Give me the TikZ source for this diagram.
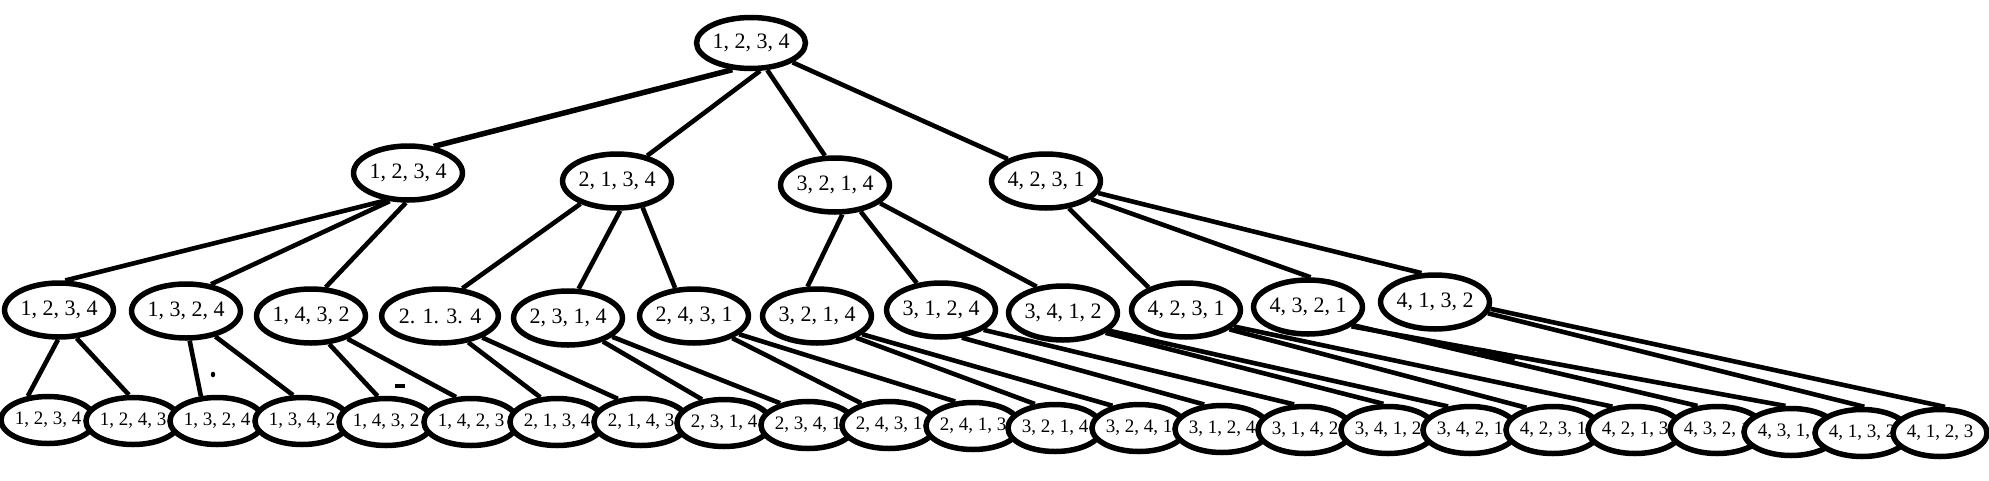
\documentclass[tikz,border=0pt]{standalone}
\usepackage{fontspec}
\newfontfamily\lab{Liberation Serif}
\usetikzlibrary{shapes.geometric}
\begin{document}
\begin{tikzpicture}[x=1pt,y=-1pt,
  ell/.style={ellipse, draw=black, line width=5.5pt, inner sep=0pt, fill=white},
  big/.style={ell, minimum width=107pt, minimum height=54pt, font=\lab\fontsize{22}{22}\selectfont},
  small/.style={ell, minimum width=77pt, minimum height=47pt, font=\lab\fontsize{19}{19}\selectfont},
  edge/.style={line width=4.6pt}]
\useasboundingbox[fill=white] (0,0) rectangle (1989,480);

% level 0
\node[big, minimum height=51pt] (R) at (751,43) {1, 2, 3, 4};
% level 1
\node[big] (A1) at (408,173) {1, 2, 3, 4};
\node[big] (A2) at (617,181) {2, 1, 3, 4};
\node[big] (A3) at (835,185) {3, 2, 1, 4};
\node[big] (A4) at (1046,181) {4, 2, 3, 1};
% level 2
\foreach \i/\x/\y/\t in {
  1/59/310/{1, 2, 3, 4},
  2/186/311/{1, 3, 2, 4},
  3/311/316/{1, 4, 3, 2},
  4/440/316/{2. 1. 3. 4},
  5/568/318/{2, 3, 1, 4},
  6/694/316/{2, 4, 3, 1},
  7/817/316/{3, 2, 1, 4},
  8/941/310/{3, 1, 2, 4},
  9/1063/313/{3, 4, 1, 2},
  10/1186/310/{4, 2, 3, 1},
  11/1308/307/{4, 3, 2, 1},
  12/1435/302/{4, 1, 3, 2}}
  \node[big] (C\i) at (\x,\y) {\t};
% level 3
\foreach \i/\x/\y/\t in {
  1/48/420/{1, 2, 3, 4},
  2/133/421/{1, 2, 4, 3},
  3/217/421/{1, 3, 2, 4},
  4/302/421/{1, 3, 4, 2},
  5/386/422/{1, 4, 3, 2},
  6/471/422/{1, 4, 2, 3},
  7/557/422/{2, 1, 3, 4},
  8/641/422/{2, 1, 4, 3},
  9/724/423/{2, 3, 1, 4},
  10/808/425/{2, 3, 4, 1},
  11/889/425/{2, 4, 3, 1},
  12/973/426/{2, 4, 1, 3},
  13/1055/428/{3, 2, 1, 4},
  14/1139/428/{3, 2, 4, 1},
  15/1222/429/{3, 1, 2, 4},
  16/1305/430/{3, 1, 4, 2},
  17/1388/430/{3, 4, 1, 2},
  18/1470/430/{3, 4, 2, 1},
  19/1553/430/{4, 2, 3, 1},
  20/1635/430/{4, 2, 1, 3},
  21/1717/430/{4, 3, 2, 1},
  22/1791/432/{4, 3, 1, 2},
  23/1862/433/{4, 1, 3, 2},
  24/1940/433/{4, 1, 2, 3}}
  \node[small] (B\i) at (\x,\y) {\t};

% edges root -> level 1
\draw[edge, line width=5.5pt] (R.235) -- (A1.46);
\draw[edge] (R.288) -- (A2.40);
\draw[edge] (R.301) -- (A3.109);
\draw[edge] (R.335) -- (A4.150);
% edges level 1 -> level 2
\foreach \p/\c/\a/\b in {
  A1/C1/231/78, A1/C2/237/47, A1/C3/266/63,
  A2/C4/212/51, A2/C5/276/70, A2/C6/314/124,
  A3/C7/284/108, A3/C8/314/132, A3/C9/338/135,
  A4/C10/310/149, A4/C11/338/85, A4/C12/347/115}
  \draw[edge] (\p.\a) -- (\c.\b);
% edges level 2 -> level 3
\foreach \p/\c/\a/\b in {
  C1/B1/268/130, C1/B2/302/99,
  C2/B3/277/123, C2/B4/319/109,
  C3/B5/303/108, C3/B6/328/121,
  C4/B7/317/124, C4/B8/333/135,
  C5/B9/326/133, C5/B10/337/142,
  C6/B11/330/142, C6/B12/338/126,
  C7/B13/331/130, C7/B14/338/140,
  C8/B15/307/126, C8/B16/335/113,
  C9/B17/335/100, C9/B18/339/133,
  C10/B19/336/140, C10/B20/341/134,
  C11/B21/338/129, C11/B22/336/102,
  C12/B23/348/85, C12/B24/353/79}
  \draw[edge] (\p.\a) -- (\c.\b);

% stray marks
\fill (213,374.5) ellipse (2.2pt and 2.8pt);
\fill (395,384) rectangle (405,388);
\draw[line width=7pt] (1479,351) -- (1515,358);
\end{tikzpicture}
\end{document}
